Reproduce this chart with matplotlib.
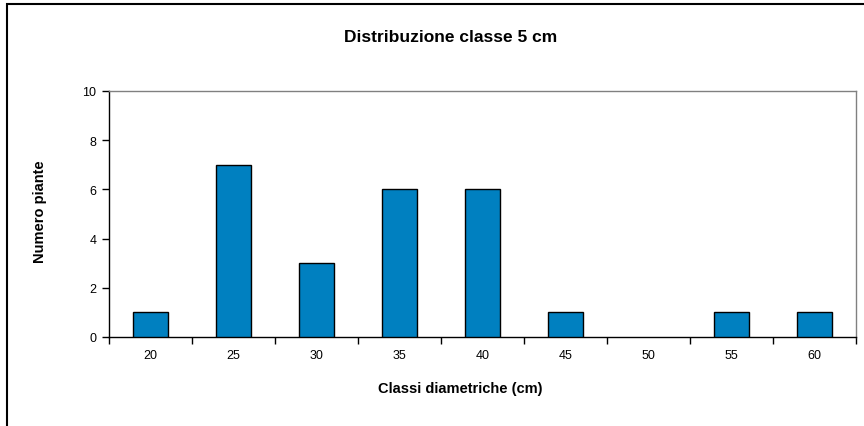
import numpy as np
import matplotlib.pyplot as plt
from matplotlib.patches import Rectangle

plt.rcParams['font.family'] = ['Liberation Sans', 'DejaVu Sans']

classes = ['20', '25', '30', '35', '40', '45', '50', '55', '60']
counts = [1, 7, 3, 6, 6, 1, 0, 1, 1]

W, H = 864, 427
fig = plt.figure(figsize=(W / 100, H / 100), dpi=100)

# plot area in pixels: left 109, right 856, top 92, bottom 338
ax = fig.add_axes([109 / W, 1 - 338 / H, (856 - 109) / W, (338 - 92) / H])

x = np.arange(len(classes))
# zero-height bars are not drawn in the original (no edge line)
edges = ['black' if c > 0 else 'none' for c in counts]
ax.bar(x, counts, width=0.41, color='#0080C0', edgecolor=edges, linewidth=1.0, zorder=3)

ax.set_xlim(-0.5, len(classes) - 0.5)
ax.set_ylim(0, 10)
ax.set_yticks(np.arange(0, 11, 2))
ax.set_xticks(x)
ax.set_xticklabels(classes)
ax.set_xticks(np.arange(-0.5, len(classes), 1), minor=True)
ax.tick_params(axis='x', which='major', length=0, pad=9, labelsize=9)
ax.tick_params(axis='x', which='minor', length=5, width=1, direction='out')
ax.tick_params(axis='y', length=5, width=1, direction='out', pad=4, labelsize=9)

ax.spines['left'].set_color('black')
ax.spines['bottom'].set_color('black')
ax.spines['top'].set_color('#808080')
ax.spines['right'].set_color('#808080')
for s in ax.spines.values():
    s.set_linewidth(1.0)

fig.text(451 / W, 1 - 38 / H, 'Distribuzione classe 5 cm',
         ha='center', va='center', fontsize=12.5, fontweight='bold')
fig.text(460 / W, 1 - 389 / H, 'Classi diametriche (cm)',
         ha='center', va='center', fontsize=10.5, fontweight='bold')
fig.text(40 / W, 1 - 212 / H, 'Numero piante', rotation=90,
         ha='center', va='center', fontsize=10.5, fontweight='bold')

# outer chart border (only left and top visible in the crop)
fig.patches.append(Rectangle((7 / W, -0.1), 1.2, 1 - 5 / H + 0.1, transform=fig.transFigure,
                             fill=False, edgecolor='black', linewidth=1.5))

fig.savefig('out.png', dpi=100)
